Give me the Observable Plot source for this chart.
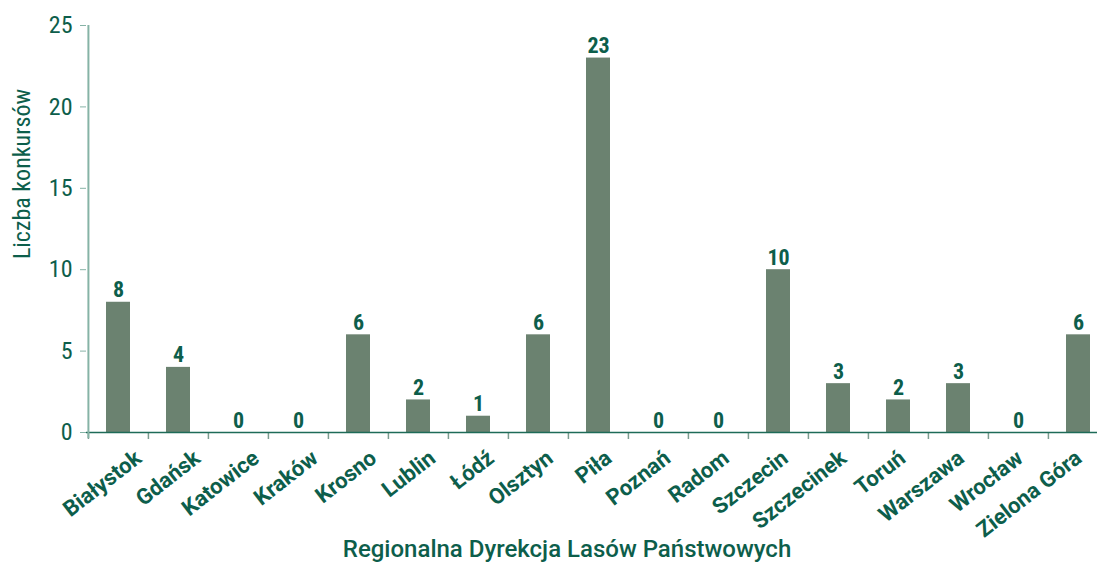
<!DOCTYPE html>
<html>
<head>
<meta charset="utf-8">
<script src="https://cdn.jsdelivr.net/npm/d3@7"></script>
<script src="https://cdn.jsdelivr.net/npm/@observablehq/plot@0.6"></script>
<style>
  html, body { margin: 0; padding: 0; background: #fff; }
  #chart svg { display: block; }
</style>
</head>
<body>
<div id="chart"></div>
<script>
const categories = ["Białystok","Gdańsk","Katowice","Kraków","Krosno","Lublin","Łódź","Olsztyn","Piła","Poznań","Radom","Szczecin","Szczecinek","Toruń","Warszawa","Wrocław","Zielona Góra"];
const values = [8,4,0,0,6,2,1,6,23,0,0,10,3,2,3,0,6];
const yTicks = [0,5,10,15,20,25];
const xTitle = "Regionalna Dyrekcja Lasów Państwowych";
const yTitle = "Liczba konkursów";

const data = categories.map((c, i) => ({name: c, value: values[i]}));

const TEXT = "#0d5e4b";
const BAR = "#6b8270";
const COND = "'Roboto Condensed', 'Liberation Sans Narrow', 'DejaVu Sans Condensed', Roboto, sans-serif";

const left = 86, right = 1109;
const step = (right - left) / categories.length;

const labelMarks = categories.map((c, i) =>
  Plot.text([c], {x: d => d, frameAnchor: "bottom", dx: 15 - 1.25 * i, dy: 16, rotate: -38,
    textAnchor: "end", lineAnchor: "top", fontSize: 22, fontWeight: "bold", fill: TEXT,
    fontFamily: "Roboto, sans-serif"})
);

const chart = Plot.plot({
  width: 1097,
  height: 562,
  marginTop: 25,
  marginBottom: 130,
  marginLeft: 86,
  marginRight: 0,
  style: {fontFamily: COND, color: TEXT, background: "#fff", overflow: "visible"},
  x: {domain: categories, range: [left, right], paddingInner: 0.6, paddingOuter: 0.3, label: null, axis: null},
  y: {domain: [0, 25], label: null},
  marks: [
    Plot.barY(data, {x: "name", y: "value", fill: BAR}),
    Plot.ruleX(categories, {x: d => d, dx: -step / 2, y1: 0, y2: 0, insetBottom: -7, stroke: "#7d9c90", strokeWidth: 1.5}),
    Plot.ruleY([0], {stroke: "#1e6b58", strokeWidth: 1.5}),
    Plot.axisY({ticks: yTicks, tickSize: 6, tickPadding: 8, fontSize: 24, stroke: "#86b3a6", color: TEXT, label: null}),
    Plot.ruleX([categories[0]], {x: d => d, dx: -step / 2, y1: 25, y2: 0, insetBottom: -6, stroke: "#86b3a6", strokeWidth: 2}),
    ...labelMarks,
    Plot.text(data, {x: "name", y: "value", text: d => String(d.value), lineAnchor: "bottom", dy: -5, fontSize: 22, fontWeight: "bold", fill: TEXT}),
    Plot.text([xTitle], {frameAnchor: "bottom", dx: -25, dy: 117, fontSize: 24, fontWeight: 500, fill: TEXT, fontFamily: "Roboto, sans-serif", lineAnchor: "middle"}),
    Plot.text([yTitle], {frameAnchor: "left", dx: -64, dy: -55, rotate: -90, textAnchor: "middle", fontSize: 24, fill: TEXT})
  ]
});
document.getElementById("chart").appendChild(chart);
</script>
</body>
</html>
